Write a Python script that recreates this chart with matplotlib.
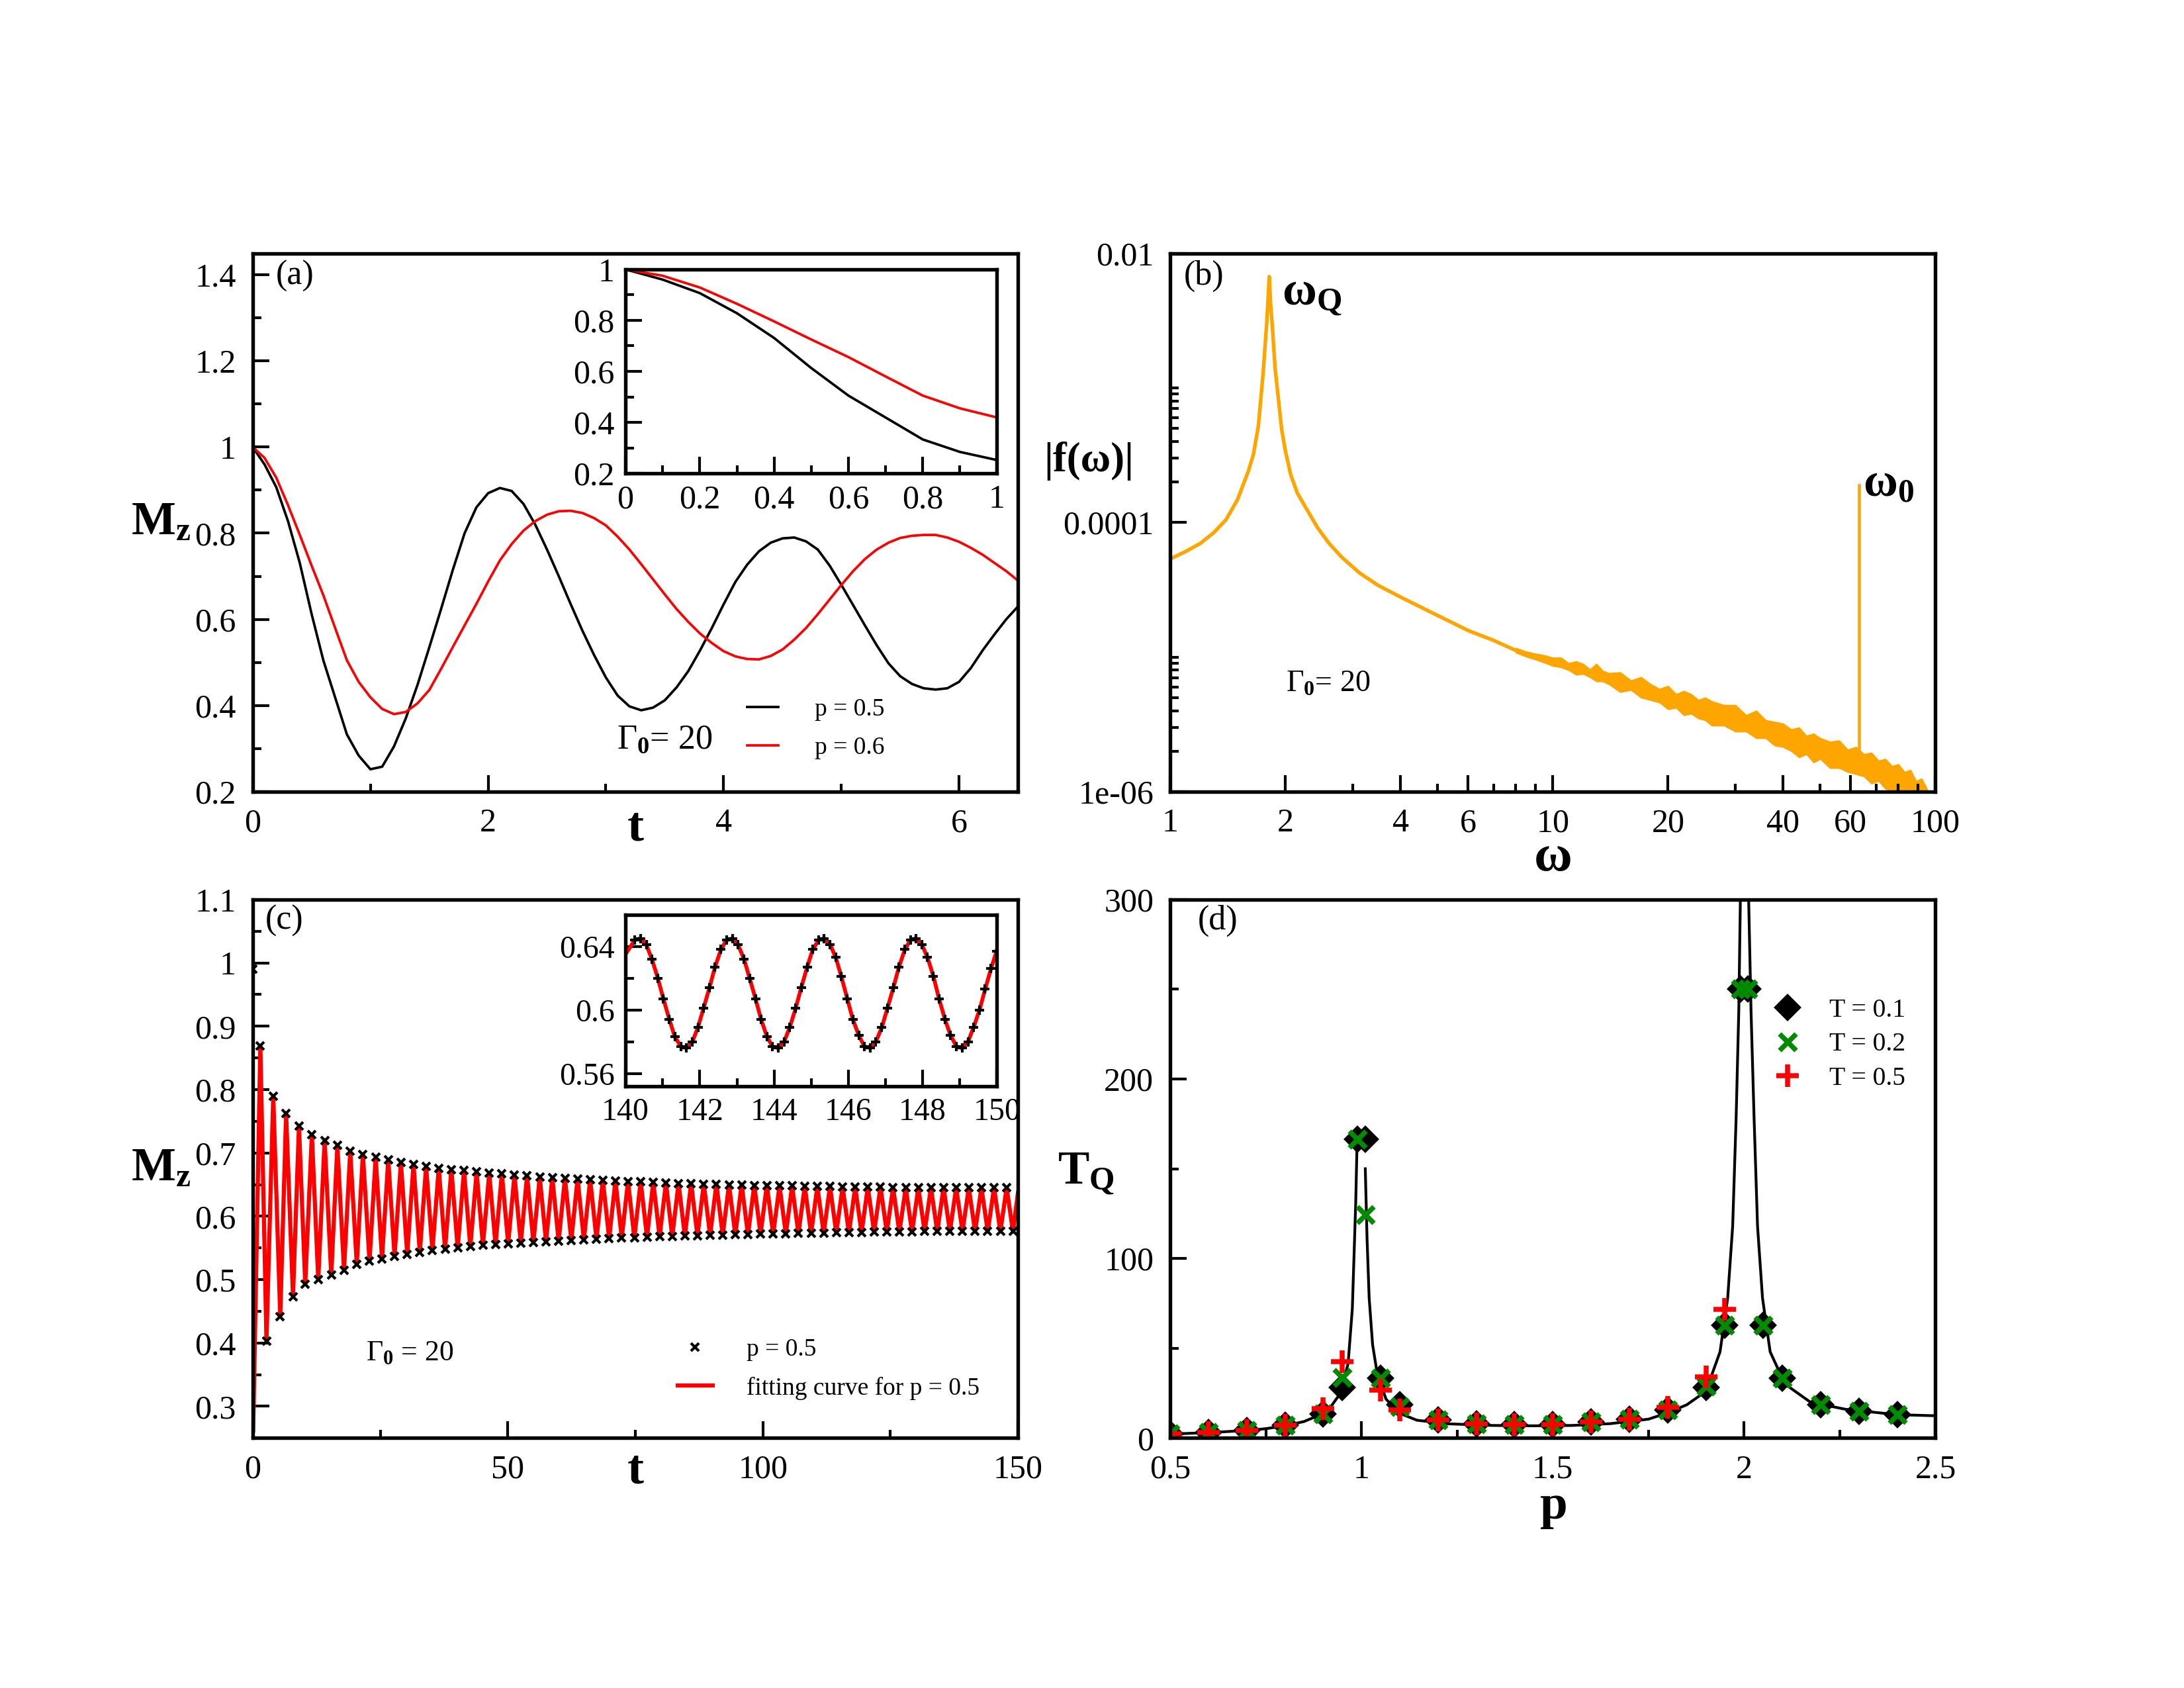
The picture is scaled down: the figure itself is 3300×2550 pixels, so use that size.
import numpy as np
import matplotlib
matplotlib.use("Agg")
import matplotlib.pyplot as plt

plt.rcParams['font.family'] = ['Liberation Serif', 'DejaVu Serif']
plt.rcParams['mathtext.fontset'] = 'custom'
plt.rcParams['mathtext.rm'] = 'Liberation Serif'
plt.rcParams['mathtext.it'] = 'Liberation Serif:italic'
plt.rcParams['mathtext.bf'] = 'Liberation Serif:bold'

# ---------------- (a) Mz(t), short times ----------------
t_a = [0.0, 0.1, 0.2, 0.3, 0.4, 0.5, 0.6, 0.7, 0.8, 0.9,
       1.0, 1.1, 1.2, 1.3, 1.4, 1.5, 1.6, 1.7, 1.8, 1.9,
       2.0, 2.1, 2.2, 2.3, 2.4, 2.5, 2.6, 2.7, 2.8, 2.9,
       3.0, 3.1, 3.2, 3.3, 3.4, 3.5, 3.6, 3.7, 3.8, 3.9,
       4.0, 4.1, 4.2, 4.3, 4.4, 4.5, 4.6, 4.7, 4.8, 4.9,
       5.0, 5.1, 5.2, 5.3, 5.4, 5.5, 5.6, 5.7, 5.8, 5.9,
       6.0, 6.1, 6.2, 6.3, 6.4, 6.5]
mz_p05 = [1.000, 0.960, 0.907, 0.828, 0.731, 0.613, 0.505, 0.419, 0.333, 0.284,
          0.252, 0.258, 0.305, 0.370, 0.448, 0.535, 0.624, 0.715, 0.800, 0.860,
          0.893, 0.905, 0.898, 0.868, 0.820, 0.762, 0.700, 0.636, 0.574, 0.517,
          0.465, 0.423, 0.398, 0.389, 0.395, 0.412, 0.442, 0.480, 0.528, 0.580,
          0.635, 0.687, 0.727, 0.758, 0.778, 0.788, 0.790, 0.781, 0.762, 0.725,
          0.680, 0.633, 0.586, 0.540, 0.498, 0.468, 0.450, 0.440, 0.437, 0.440,
          0.455, 0.487, 0.528, 0.565, 0.600, 0.630]
mz_p06 = [1.000, 0.975, 0.929, 0.865, 0.796, 0.725, 0.656, 0.580, 0.505, 0.455,
          0.419, 0.392, 0.380, 0.385, 0.405, 0.436, 0.485, 0.536, 0.586, 0.636,
          0.688, 0.737, 0.775, 0.806, 0.828, 0.843, 0.851, 0.852, 0.847, 0.835,
          0.818, 0.792, 0.762, 0.728, 0.693, 0.658, 0.624, 0.594, 0.567, 0.545,
          0.526, 0.514, 0.508, 0.507, 0.515, 0.530, 0.553, 0.580, 0.612, 0.646,
          0.680, 0.712, 0.740, 0.762, 0.778, 0.789, 0.794, 0.796, 0.796, 0.790,
          0.780, 0.766, 0.750, 0.731, 0.712, 0.690]

# ---------------- (b) spectrum |f(w)| ----------------
w_smooth = [1.0, 1.1, 1.2, 1.3, 1.4, 1.5, 1.6, 1.65, 1.7, 1.75, 1.79, 1.815,
            1.83, 1.85, 1.88, 1.92, 1.956, 2.0, 2.065, 2.15, 2.26, 2.43, 2.6,
            2.81, 3.13, 3.5, 4.04, 4.84, 6.02, 7.0, 8.0]
f_smooth = [5.35e-5, 6.1e-5, 7.0e-5, 8.4e-5, 1.05e-4, 1.48e-4, 2.4e-4, 3.2e-4,
            5.2e-4, 1.3e-3, 3.2e-3, 6.7e-3, 4.2e-3, 2.8e-3, 1.4e-3, 8.0e-4,
            4.9e-4, 3.4e-4, 2.26e-4, 1.65e-4, 1.29e-4, 9.1e-5, 7.0e-5, 5.5e-5,
            4.2e-5, 3.4e-5, 2.75e-5, 2.13e-5, 1.57e-5, 1.33e-5, 1.12e-5]
# noisy tail: upper / lower edge of the band (units of 1e-6)
w_noise = [8, 8.5, 9, 9.5, 10, 10.5, 11, 11.5, 12, 12.5, 13, 13.5, 14, 15, 16,
           17, 18, 19, 20, 21, 22, 23, 24, 25, 26, 28, 30, 32, 34, 36, 38, 40,
           42, 44, 46, 48, 50, 53, 56, 59, 62, 65, 68, 71, 74, 77, 80, 83, 86,
           89, 92, 95]
f_noise_hi = [11.7, 11.0, 10.6, 10.3, 9.9, 9.9, 9.0, 9.3, 8.9, 8.1, 8.9, 7.9,
              7.6, 7.7, 6.7, 7.1, 6.3, 5.8, 6.1, 5.3, 5.6, 5.3, 4.8, 5.0, 4.7,
              4.4, 4.4, 3.7, 4.0, 3.4, 3.3, 3.2, 2.9, 3.0, 2.6, 2.7, 2.5, 2.35,
              2.4, 2.05, 2.15, 1.9, 1.95, 1.7, 1.75, 1.55, 1.6, 1.4, 1.45, 1.2,
              1.25, 1.05]
f_noise_lo = [10.8, 10.1, 9.6, 9.1, 8.6, 8.4, 8.0, 7.4, 7.5, 7.1, 6.6, 6.6, 6.3,
              5.5, 5.7, 5.0, 4.8, 4.6, 4.1, 4.2, 3.7, 3.8, 3.5, 3.4, 3.1, 3.1,
              2.8, 2.8, 2.5, 2.5, 2.2, 2.15, 2.0, 1.8, 1.9, 1.65, 1.75, 1.5,
              1.5, 1.4, 1.35, 1.3, 1.15, 1.2, 1.05, 1.02, 0.95, 0.9, 0.82, 0.85,
              0.80, 0.90]
w_spike = [63.1, 63.1]
f_spike = [1.7e-6, 1.9e-4]

# ---------------- (c) Mz(t), long times ----------------
peak_t = [1.50, 4.03, 6.55, 9.07, 11.60, 14.10, 16.60, 19.12, 21.60, 24.10,
          26.57, 29.05, 31.52, 33.99, 36.47, 38.94, 41.42, 43.89, 46.36, 48.84,
          51.31, 53.78, 56.26, 58.73, 61.21, 63.68, 66.15, 68.63, 71.10, 73.57,
          76.05, 78.52, 81.00, 83.47, 85.94, 88.42, 90.89, 93.36, 95.84, 98.31,
          100.78, 103.26, 105.73, 108.21, 110.68, 113.15, 115.63, 118.10, 120.57, 123.05,
          125.52, 128.00, 130.47, 132.94, 135.42, 137.89, 140.36, 142.84, 145.31, 147.78]
peak_v = [0.869, 0.790, 0.762, 0.743, 0.729, 0.720, 0.712, 0.703, 0.698, 0.693,
          0.689, 0.685, 0.682, 0.679, 0.676, 0.674, 0.672, 0.670, 0.668, 0.667,
          0.665, 0.664, 0.662, 0.661, 0.660, 0.659, 0.658, 0.657, 0.656, 0.655,
          0.655, 0.654, 0.653, 0.652, 0.652, 0.651, 0.651, 0.650, 0.650, 0.649,
          0.649, 0.648, 0.648, 0.647, 0.647, 0.647, 0.646, 0.646, 0.646, 0.646,
          0.645, 0.645, 0.645, 0.645, 0.645, 0.645, 0.645, 0.645, 0.645, 0.645]
trough_t = [2.70, 5.40, 7.90, 10.30, 12.85, 15.40, 17.90, 20.40, 22.90, 25.35,
            27.81, 30.29, 32.76, 35.23, 37.71, 40.18, 42.66, 45.13, 47.60, 50.08,
            52.55, 55.02, 57.50, 59.97, 62.45, 64.92, 67.39, 69.87, 72.34, 74.81,
            77.29, 79.76, 82.24, 84.71, 87.18, 89.66, 92.13, 94.60, 97.08, 99.55,
            102.02, 104.50, 106.97, 109.45, 111.92, 114.39, 116.87, 119.34, 121.81, 124.29,
            126.76, 129.24, 131.71, 134.18, 136.66, 139.13, 141.60, 144.08, 146.55, 149.02]
trough_v = [0.403, 0.442, 0.473, 0.493, 0.500, 0.507, 0.515, 0.524, 0.529, 0.533,
            0.537, 0.540, 0.543, 0.546, 0.548, 0.550, 0.552, 0.554, 0.555, 0.557,
            0.558, 0.559, 0.560, 0.561, 0.562, 0.563, 0.564, 0.565, 0.566, 0.566,
            0.567, 0.568, 0.568, 0.569, 0.569, 0.570, 0.570, 0.571, 0.571, 0.572,
            0.572, 0.572, 0.573, 0.573, 0.573, 0.574, 0.574, 0.574, 0.575, 0.575,
            0.575, 0.575, 0.576, 0.576, 0.576, 0.576, 0.576, 0.576, 0.576, 0.576]
fit_start = (0.1, 0.262)
fit_end = (150.0, 0.637)
data_first = (0.0, 0.99)

# inset of (c): samples between t = 140 and 150
t_c_in = [140.25, 140.40, 140.56, 140.71, 140.87, 141.02, 141.18, 141.33,
          141.49, 141.64, 141.80, 141.95, 142.10, 142.26, 142.41, 142.57,
          142.72, 142.88, 143.03, 143.19, 143.34, 143.50, 143.65, 143.81,
          143.96, 144.11, 144.27, 144.42, 144.58, 144.73, 144.89, 145.04,
          145.20, 145.35, 145.51, 145.66, 145.81, 145.97, 146.12, 146.28,
          146.43, 146.59, 146.74, 146.90, 147.05, 147.21, 147.36, 147.52,
          147.67, 147.82, 147.98, 148.13, 148.29, 148.44, 148.60, 148.75,
          148.91, 149.06, 149.22, 149.37, 149.53, 149.68, 149.84, 149.99]
mz_c_in = [0.644, 0.645, 0.641, 0.632, 0.620, 0.607, 0.594, 0.583,
           0.577, 0.576, 0.580, 0.589, 0.601, 0.614, 0.627, 0.638,
           0.644, 0.645, 0.641, 0.632, 0.620, 0.607, 0.594, 0.583,
           0.577, 0.576, 0.580, 0.589, 0.601, 0.614, 0.627, 0.638,
           0.644, 0.645, 0.641, 0.633, 0.621, 0.607, 0.594, 0.584,
           0.577, 0.576, 0.580, 0.589, 0.601, 0.614, 0.627, 0.638,
           0.644, 0.645, 0.641, 0.633, 0.621, 0.607, 0.594, 0.584,
           0.577, 0.576, 0.580, 0.589, 0.600, 0.613, 0.626, 0.637]
fit_in_start = (140.0, 0.635)

# ---------------- (d) T_Q vs p ----------------
p_pts = [0.5, 0.6, 0.7, 0.8, 0.9, 0.95, 0.99, 1.01, 1.05, 1.1, 1.2, 1.3, 1.4,
         1.5, 1.6, 1.7, 1.8, 1.9, 1.95, 1.99, 2.01, 2.05, 2.1, 2.2, 2.3, 2.4]
tq_T01 = [2.5, 3.0, 4.0, 7.0, 13.5, 28.0, 166.5, 166.5, 33.5, 18.5, 10.0, 8.0,
          7.6, 7.6, 9.0, 10.6, 15.6, 28.0, 63.0, 250.0, 250.0, 63.0, 33.5, 18.4,
          15.0, 13.0]
tq_T02 = [2.5, 3.0, 4.0, 7.0, 13.5, 33.6, 166.5, 124.5, 33.5, 17.5, 10.0, 8.0,
          7.6, 7.6, 9.0, 10.6, 15.6, 29.0, 63.0, 250.0, 250.0, 63.0, 33.5, 18.4,
          15.0, 13.0]
p_T05 = [0.5, 0.6, 0.7, 0.8, 0.9, 0.95, 1.05, 1.1, 1.2, 1.3, 1.4, 1.5, 1.6,
         1.7, 1.8, 1.9, 1.95]
tq_T05 = [2.5, 3.0, 4.0, 7.0, 16.5, 42.6, 26.6, 15.5, 10.0, 8.0, 7.6, 7.6, 9.0,
          10.6, 17.0, 34.0, 71.6]
p_curve = [0.50, 0.60, 0.70, 0.75, 0.80, 0.85, 0.895, 0.92, 0.945, 0.965, 0.976,
           0.981, 0.985, 0.988, np.nan,
           1.0099, 1.0145, 1.020, 1.029, 1.041, 1.064, 1.099, 1.145, 1.227,
           1.343, 1.45, 1.55, 1.65, 1.75, 1.80, 1.85, 1.90, 1.937, 1.957, 1.970,
           1.979, 1.986, 1.990, 1.993, np.nan,
           2.009, 2.012, 2.018, 2.026, 2.035, 2.048, 2.068, 2.107, 2.173, 2.265,
           2.40, 2.50]
tq_curve = [2.2, 3.0, 4.2, 5.2, 6.8, 9.2, 13.2, 17.5, 25.0, 41.5, 72.0, 105.0,
            132.0, 161.0, np.nan,
            150.0, 111.0, 78.0, 52.0, 36.0, 21.7, 13.8, 9.9, 7.9, 7.0, 6.8, 7.0,
            8.0, 10.5, 14.0, 18.5, 26.0, 48.0, 78.0, 118.0, 178.0, 238.0, 298.0,
            360.0, np.nan,
            360.0, 298.0, 238.0, 178.0, 118.0, 78.0, 48.0, 30.0, 20.0, 16.0,
            13.0, 12.4]

GREEN = '#008b00'
ORANGE = '#ffa500'
TICK_FS = 12


def style(ax, fs=TICK_FS):
    for s in ax.spines.values():
        s.set_linewidth(1.3)
    ax.tick_params(which='both', direction='in', top=False, right=False,
                   labelsize=fs, pad=6, width=1.0)
    ax.tick_params(which='major', length=6)
    ax.tick_params(which='minor', length=3)


fig = plt.figure(figsize=(11, 8.5), dpi=300)
W, H = 0.3504, 0.3190
X1, X2 = 0.1157, 0.5358
Y1, Y2 = 0.531, 0.1481

# ---- (a)
ax_a = fig.add_axes([X1, Y1, W, H])
ax_a.plot(t_a, mz_p05, color='black', lw=0.9, label='p = 0.5')
ax_a.plot(t_a, mz_p06, color='red', lw=0.9, label='p = 0.6')
ax_a.set_xlim(0, 6.5)
ax_a.set_ylim(0.2, 1.45)
ax_a.set_xticks([0, 2, 4, 6], ['0', '2', '4', '6'])
ax_a.set_xticks([1, 3, 5], minor=True)
ax_a.set_yticks([0.2, 0.4, 0.6, 0.8, 1.0, 1.2, 1.4],
                ['0.2', '0.4', '0.6', '0.8', '1', '1.2', '1.4'])
ax_a.set_yticks([0.3, 0.5, 0.7, 0.9, 1.1, 1.3], minor=True)
style(ax_a)
ax_a.text(0.03, 0.958, '(a)', transform=ax_a.transAxes, fontsize=12.5,
          va='center', ha='left')
ax_a.text(0.476, 0.096, r'$\Gamma_{\mathbf{0}}$= 20', transform=ax_a.transAxes,
          fontsize=12.5, va='center', ha='left')
ax_a.text(-0.12, 0.5, r'$\mathbf{M_z}$', transform=ax_a.transAxes,
          fontsize=17, va='center', ha='center')
ax_a.text(0.5, -0.068, r'$\mathbf{t}$', transform=ax_a.transAxes,
          fontsize=18, va='center', ha='center')
ax_a.legend(loc='lower left', bbox_to_anchor=(0.646, 0.06), frameon=False,
            fontsize=9, handlelength=1.25, handletextpad=1.48, labelspacing=0.62,
            borderpad=0, borderaxespad=0)

ax_ai = fig.add_axes([0.2864, 0.7196, 0.1701, 0.1208])
ax_ai.plot(t_a[:11], mz_p05[:11], color='black', lw=0.9)
ax_ai.plot(t_a[:11], mz_p06[:11], color='red', lw=0.9)
ax_ai.set_xlim(0, 1)
ax_ai.set_ylim(0.2, 1.0)
ax_ai.set_xticks([0, 0.2, 0.4, 0.6, 0.8, 1.0], ['0', '0.2', '0.4', '0.6', '0.8', '1'])
ax_ai.set_xticks([0.1, 0.3, 0.5, 0.7, 0.9], minor=True)
ax_ai.set_yticks([0.2, 0.4, 0.6, 0.8, 1.0], ['0.2', '0.4', '0.6', '0.8', '1'])
ax_ai.set_yticks([0.3, 0.5, 0.7, 0.9], minor=True)
style(ax_ai, 12)
ax_ai.tick_params(pad=4)

# ---- (b)
ax_b = fig.add_axes([X2, Y1, W, H])
ax_b.fill_between(w_noise, np.array(f_noise_lo) * 1e-6, np.array(f_noise_hi) * 1e-6,
                  color=ORANGE, lw=0.4, edgecolor=ORANGE)
ax_b.plot(w_smooth, f_smooth, color=ORANGE, lw=1.3)
ax_b.plot(w_spike, f_spike, color=ORANGE, lw=1.1)
ax_b.set_xscale('log')
ax_b.set_yscale('log')
ax_b.set_xlim(1, 100)
ax_b.set_ylim(1e-6, 1e-2)
ax_b.set_xticks([1, 2, 4, 6, 10, 20, 40, 60, 100],
                ['1', '2', '4', '6', '10', '20', '40', '60', '100'])
ax_b.set_xticks([3, 5, 7, 8, 9, 30, 50, 70, 80, 90], [], minor=True)
ax_b.set_yticks([1e-6, 1e-4, 1e-2], ['1e-06', '0.0001', '0.01'])
ax_b.set_yticks([2e-6, 3e-6, 4e-6, 5e-6, 6e-6, 7e-6, 8e-6, 9e-6, 1e-5,
                 2e-4, 3e-4, 4e-4, 5e-4, 6e-4, 7e-4, 8e-4, 9e-4, 1e-3], [], minor=True)
style(ax_b)
ax_b.text(0.018, 0.958, '(b)', transform=ax_b.transAxes, fontsize=12.5,
          va='center', ha='left')
ax_b.text(0.146, 0.92, r'$\mathbf{\omega_Q}$', transform=ax_b.transAxes,
          fontsize=17, va='center', ha='left')
ax_b.text(0.905, 0.57, r'$\mathbf{\omega_0}$', transform=ax_b.transAxes,
          fontsize=17, va='center', ha='left')
ax_b.text(0.151, 0.2, r'$\Gamma_{\mathbf{0}}$= 20', transform=ax_b.transAxes,
          fontsize=11, va='center', ha='left')
ax_b.text(-0.106, 0.614, '|f(ω)|', transform=ax_b.transAxes, fontsize=15,
          fontweight='bold', va='center', ha='center')
ax_b.text(0.5, -0.124, 'ω', transform=ax_b.transAxes, fontsize=19,
          fontweight='bold', va='center', ha='center')

# ---- (c)
fit_t = [fit_start[0]]
fit_v = [fit_start[1]]
for tp, vp, tt, vt in zip(peak_t, peak_v, trough_t, trough_v):
    fit_t += [tp, tt]
    fit_v += [vp, vt]
fit_t.append(fit_end[0])
fit_v.append(fit_end[1])
dat_t = [data_first[0]] + peak_t + trough_t
dat_v = [data_first[1]] + peak_v + trough_v

ax_c = fig.add_axes([X1, Y2, W, H])
ax_c.plot(fit_t, fit_v, color='red', lw=1.5, label='fitting curve for p = 0.5')
ax_c.plot(dat_t, dat_v, ls='none', marker='x', ms=3, mew=1.0, color='black',
          label='p = 0.5')
ax_c.set_xlim(0, 150)
ax_c.set_ylim(0.25, 1.1)
ax_c.set_xticks([0, 50, 100, 150], ['0', '50', '100', '150'])
ax_c.set_xticks([25, 75, 125], minor=True)
ax_c.set_yticks([0.3, 0.4, 0.5, 0.6, 0.7, 0.8, 0.9, 1.0, 1.1],
                ['0.3', '0.4', '0.5', '0.6', '0.7', '0.8', '0.9', '1', '1.1'])
ax_c.set_yticks([0.35, 0.45, 0.55, 0.65, 0.75, 0.85, 0.95, 1.05], minor=True)
style(ax_c)
ax_c.text(0.016, 0.961, '(c)', transform=ax_c.transAxes, fontsize=12.5,
          va='center', ha='left')
ax_c.text(0.148, 0.158, r'$\Gamma_{\mathbf{0}}$ = 20', transform=ax_c.transAxes,
          fontsize=10.5, va='center', ha='left')
ax_c.text(-0.12, 0.5, r'$\mathbf{M_z}$', transform=ax_c.transAxes,
          fontsize=17, va='center', ha='center')
ax_c.text(0.5, -0.062, r'$\mathbf{t}$', transform=ax_c.transAxes,
          fontsize=18, va='center', ha='center')
h, l = ax_c.get_legend_handles_labels()
ax_c.legend(h[::-1], l[::-1], loc='lower left', bbox_to_anchor=(0.555, 0.071),
            frameon=False, fontsize=9, handlelength=1.42, handletextpad=1.37,
            labelspacing=0.62, borderpad=0, borderaxespad=0)

ax_ci = fig.add_axes([0.2864, 0.3565, 0.1701, 0.1017])
ax_ci.plot([fit_in_start[0]] + t_c_in, [fit_in_start[1]] + mz_c_in,
           color='red', lw=1.4)
ax_ci.plot(t_c_in, mz_c_in, ls='none', marker='+', ms=3.5, mew=1.0, color='black')
ax_ci.set_xlim(140, 150)
ax_ci.set_ylim(0.552, 0.66)
ax_ci.set_xticks([140, 142, 144, 146, 148, 150])
ax_ci.set_xticks([141, 143, 145, 147, 149], minor=True)
ax_ci.set_yticks([0.56, 0.60, 0.64], ['0.56', '0.6', '0.64'])
ax_ci.set_yticks([0.58, 0.62], minor=True)
style(ax_ci, 11.5)
ax_ci.tick_params(pad=4)

# ---- (d)
ax_d = fig.add_axes([X2, Y2, W, H])
ax_d.plot(p_curve, tq_curve, color='black', lw=1.0)
ax_d.plot(p_pts, tq_T01, ls='none', marker='D', ms=6, color='black', label='T = 0.1')
ax_d.plot(p_pts, tq_T02, ls='none', marker='x', ms=6, mew=1.8, color=GREEN,
          label='T = 0.2')
ax_d.plot(p_T05, tq_T05, ls='none', marker='+', ms=8, mew=1.8, color='red',
          label='T = 0.5')
ax_d.set_xlim(0.5, 2.5)
ax_d.set_ylim(0, 300)
ax_d.set_xticks([0.5, 1.0, 1.5, 2.0, 2.5], ['0.5', '1', '1.5', '2', '2.5'])
ax_d.set_xticks([0.75, 1.25, 1.75, 2.25], minor=True)
ax_d.set_yticks([0, 100, 200, 300])
ax_d.set_yticks([50, 150, 250], minor=True)
style(ax_d)
ax_d.text(0.036, 0.961, '(d)', transform=ax_d.transAxes, fontsize=12.5,
          va='center', ha='left')
ax_d.text(-0.11, 0.49, r'$\mathbf{T_Q}$', transform=ax_d.transAxes,
          fontsize=17, va='center', ha='center')
ax_d.text(0.5, -0.13, r'$\mathbf{p}$', transform=ax_d.transAxes,
          fontsize=18, va='center', ha='center')
ax_d.legend(loc='upper left', bbox_to_anchor=(0.789, 0.817), frameon=False,
            fontsize=9.5, handlelength=1.05, handletextpad=1.05, labelspacing=0.37,
            borderpad=0, borderaxespad=0)

fig.savefig('out.png', dpi=300)
